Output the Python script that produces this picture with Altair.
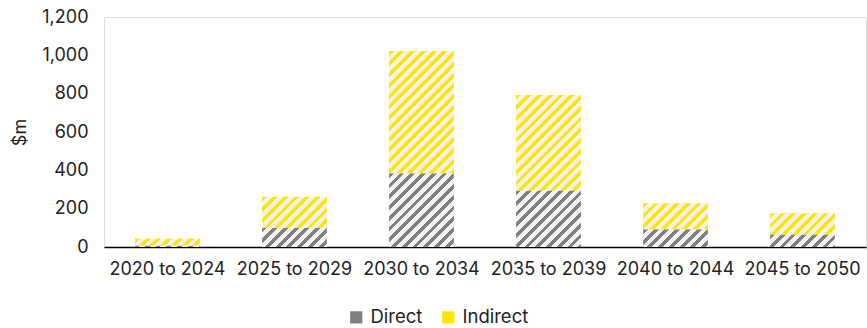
import math
import altair as alt

# ---- data ----
periods = ["2020 to 2024", "2025 to 2029", "2030 to 2034",
           "2035 to 2039", "2040 to 2044", "2045 to 2050"]
direct = [8, 100, 385, 295, 92, 65]
indirect = [37, 162, 637, 498, 136, 111]
series = ["Direct", "Indirect"]
y_ticks = [0, 200, 400, 600, 800, 1000, 1200]

# ---- styling / layout ----
W, H = 762, 230
YMAX = 1200
P_INNER = 0.49
BAR_W = W / len(periods) * (1 - P_INNER)
STRIPE_PERIOD = 7.6   # px, perpendicular to stripes
STRIPE_FRAC = 0.45
BG = "#f2f2f2"
stripe_colors = {"Direct": "#808080", "Indirect": "#ffe600"}
FONT = "Inter"
TXT = "#222222"
FS = 18


def hatch(color, h):
    """Diagonal-stripe fill built from a linear gradient with hard stops."""
    w = BAR_W
    h = max(h, 0.5)
    k = (w + h) / (w * w + h * h)
    n = (w + h) / math.sqrt(2) / STRIPE_PERIOD
    stops = []
    i = 0
    while i < n:
        a = round(i / n, 5)
        b = round(min((i + STRIPE_FRAC) / n, 1), 5)
        c = round(min((i + 1) / n, 1), 5)
        stops += [{"offset": a, "color": color}, {"offset": b, "color": color},
                  {"offset": b, "color": BG}, {"offset": c, "color": BG}]
        i += 1
    return {"gradient": "linear", "x1": 0, "y1": 0,
            "x2": k * w, "y2": k * h, "stops": stops}


records = []
for p, d, ind in zip(periods, direct, indirect):
    for j, (s, v) in enumerate(zip(series, [d, ind])):
        records.append({"period": p, "type": s, "ord": j, "value": v,
                        "hatch": hatch(stripe_colors[s], v * H / YMAX)})

base = alt.Chart(alt.Data(values=records)).transform_stack(
    stack="value", groupby=["period"], as_=["y0", "y1"],
    sort=[alt.SortField("ord", order="ascending")]
)

x_enc = alt.X(
    "period:N", sort=periods,
    scale=alt.Scale(paddingInner=P_INNER, paddingOuter=P_INNER / 2),
    axis=alt.Axis(title=None, labelAngle=0, ticks=False, domainColor="#000000",
                  domainWidth=1.5, labelFont=FONT, labelFontSize=FS,
                  labelColor=TXT, labelPadding=13),
)
y_enc = alt.Y(
    "y0:Q", scale=alt.Scale(domain=[0, YMAX], nice=False),
    axis=alt.Axis(title="$m", values=y_ticks, format=",.0f", grid=False,
                  domain=False, ticks=False, labelFont=FONT, labelFontSize=FS,
                  labelColor=TXT, labelPadding=16, titleFont=FONT,
                  titleFontSize=FS, titleFontWeight="normal", titleColor=TXT,
                  titleX=-84, titleY=115, titleAngle=-90,
                  titleBaseline="middle", titleAlign="center"),
)

bars = base.mark_bar().encode(
    x=x_enc, y=y_enc, y2="y1:Q",
    fill=alt.Fill("hatch:N", scale=None),
)

legend_layer = base.mark_bar(opacity=0).encode(
    x=x_enc, y=y_enc, y2="y1:Q",
    color=alt.Color(
        "type:N",
        scale=alt.Scale(domain=series,
                        range=[stripe_colors[s] for s in series]),
        legend=alt.Legend(title=None, orient="none", legendX=243, legendY=291,
                          direction="horizontal", symbolType="square",
                          symbolSize=150, symbolStrokeWidth=0,
                          labelFont=FONT, labelFontSize=FS + 0.5, labelColor=TXT,
                          labelOffset=5, columnPadding=16),
    ),
)

chart = alt.layer(bars, legend_layer).properties(
    width=W, height=H,
    autosize=alt.AutoSizeParams(type="none"),
    padding={"left": 104, "top": 17, "right": 1, "bottom": 81},
).configure_view(stroke=None).configure(background="white")

chart.save("out.html", embed_options={"renderer": "svg", "actions": False})
